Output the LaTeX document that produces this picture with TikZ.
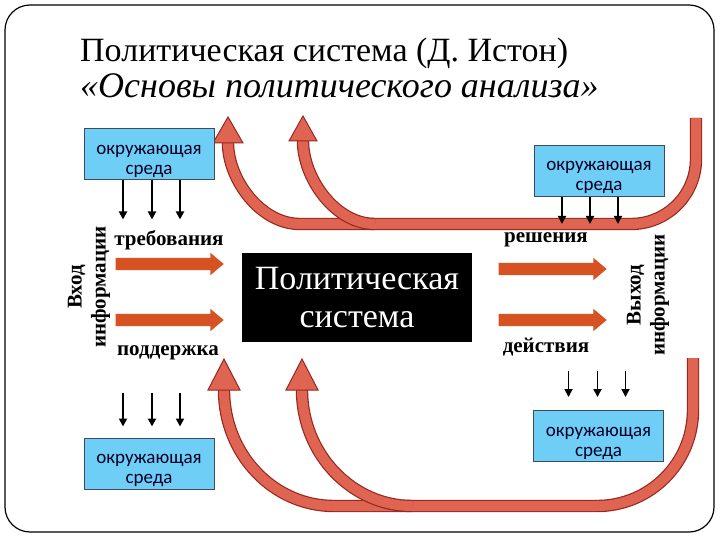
\documentclass[tikz,border=0pt]{standalone}
\usepackage{fontspec}
\setmainfont{Liberation Serif}
\newfontfamily\boxfont{Carlito}
\usetikzlibrary{arrows.meta,shapes.arrows}
\definecolor{envblue}{RGB}{110,206,245}
\definecolor{envline}{RGB}{60,75,95}
\definecolor{flowor}{RGB}{214,82,34}
\definecolor{bandred}{RGB}{224,100,82}
\definecolor{bandline}{RGB}{150,40,30}
\tikzset{
  envbox/.style={draw=envline,fill=envblue,line width=1bp,minimum width=130bp,minimum height=51bp,inner sep=0,text height=44bp,text depth=4bp,align=center,text=black!85!blue,font=\boxfont\fontsize{19bp}{20bp}\selectfont},
  flowarrow/.style={single arrow,fill=flowor,minimum height=108bp,minimum width=22bp,single arrow head extend=5bp,single arrow tip angle=80,inner xsep=0,inner ysep=6bp},
  flowlabel/.style={font=\bfseries\fontsize{21bp}{22bp}\selectfont},
  sidelabel/.style={rotate=90,align=center,font=\bfseries\fontsize{21bp}{24bp}\selectfont},
  downarrow/.style={line width=1.8bp,-{Triangle[length=8bp,width=8bp]}},
  band/.style={line width=1.2bp,draw=bandline,double=bandred,double distance=10bp},
  bandhead/.style={draw=bandline,fill=bandred,line width=1bp,line join=miter}
}
\begin{document}
\begin{tikzpicture}[x=1bp,y=-1bp]
    \useasboundingbox (0,0) rectangle (720,540);
    %cadre
    \draw[line width=1.2bp,rounded corners=25bp] (5,5) rectangle (714,532);
    %titre
    \node[anchor=base west,inner sep=0,font=\fontsize{34bp}{36bp}\selectfont] (titre1) at (80,62) {Политическая система (Д. Истон)};
    \node[anchor=base west,inner sep=0,font=\itshape\fontsize{36bp}{38bp}\selectfont] (titre2) at (80,98) {«Основы политического анализа»};
    %boucles de retour
    \draw[band] (696,118) -- (696,159) arc (0:90:65) -- (300,224) .. controls (260,224) and (228,179) .. (228,143);
    \draw[band] (375,224) .. controls (335,224) and (303,178) .. (303,141);
    \draw[band] (693,358) -- (693,410) arc (0:90:96) -- (334,506) .. controls (273,506) and (224,454) .. (224,390);
    \draw[band] (412,506) .. controls (352,506) and (302,454) .. (302,390);
    \draw[bandhead] (228,117) -- (243,143) -- (213,143) -- cycle;
    \draw[bandhead] (303,116) -- (317,141) -- (289,141) -- cycle;
    \draw[bandhead] (224,359) -- (240,390) -- (208,390) -- cycle;
    \draw[bandhead] (302,359) -- (318,390) -- (286,390) -- cycle;
    %environnement
    \node[envbox] (envTL) at (149,154.5) {окружающая\\среда};
    \node[envbox] (envTR) at (599,171) {окружающая\\среда};
    \node[envbox] (envBL) at (149,463.5) {окружающая\\среда};
    \node[envbox] (envBR) at (598.5,436) {окружающая\\среда};
    \foreach \dx in {-26,3,31}
        \draw[downarrow] ([xshift=\dx bp]envTL.south) -- ++(0,39);
    \foreach \dx in {-37,-9,19}
        \draw[downarrow] ([xshift=\dx bp]envTR.south) -- ++(0,27);
    \foreach \dx in {-26,3,31}
        \draw[downarrow] ([xshift=\dx bp,yshift=45bp]envBL.north) -- ([xshift=\dx bp,yshift=11bp]envBL.north);
    \foreach \dx in {-30,-1,27}
        \draw[downarrow] ([xshift=\dx bp,yshift=39bp]envBR.north) -- ([xshift=\dx bp,yshift=13bp]envBR.north);
    %systeme
    \node[fill=black,minimum width=230bp,minimum height=89bp,align=center,text=white,font=\fontsize{34bp}{38bp}\selectfont] (polsys) at (357,297.5) {Политическая\\система};
    %entrees et sorties
    \node[flowarrow] (demand) at (166,264) {};
    \node[flowarrow] (support) at (166,320) {};
    \node[flowarrow] (decision) at (549,269) {};
    \node[flowarrow] (action) at (549,320) {};
    \node[flowlabel] (lbdemand) at (169,240) {требования};
    \node[flowlabel] (lbsupport) at (168,353) {поддержка};
    \node[flowlabel] (lbdecision) at (546,240) {решения};
    \node[flowlabel] (lbaction) at (546,347) {действия};
    \node[sidelabel] (input) at (89,287) {Вход\\информации};
    \node[sidelabel] (output) at (648,295) {Выход\\информации};
\end{tikzpicture}
\end{document}
